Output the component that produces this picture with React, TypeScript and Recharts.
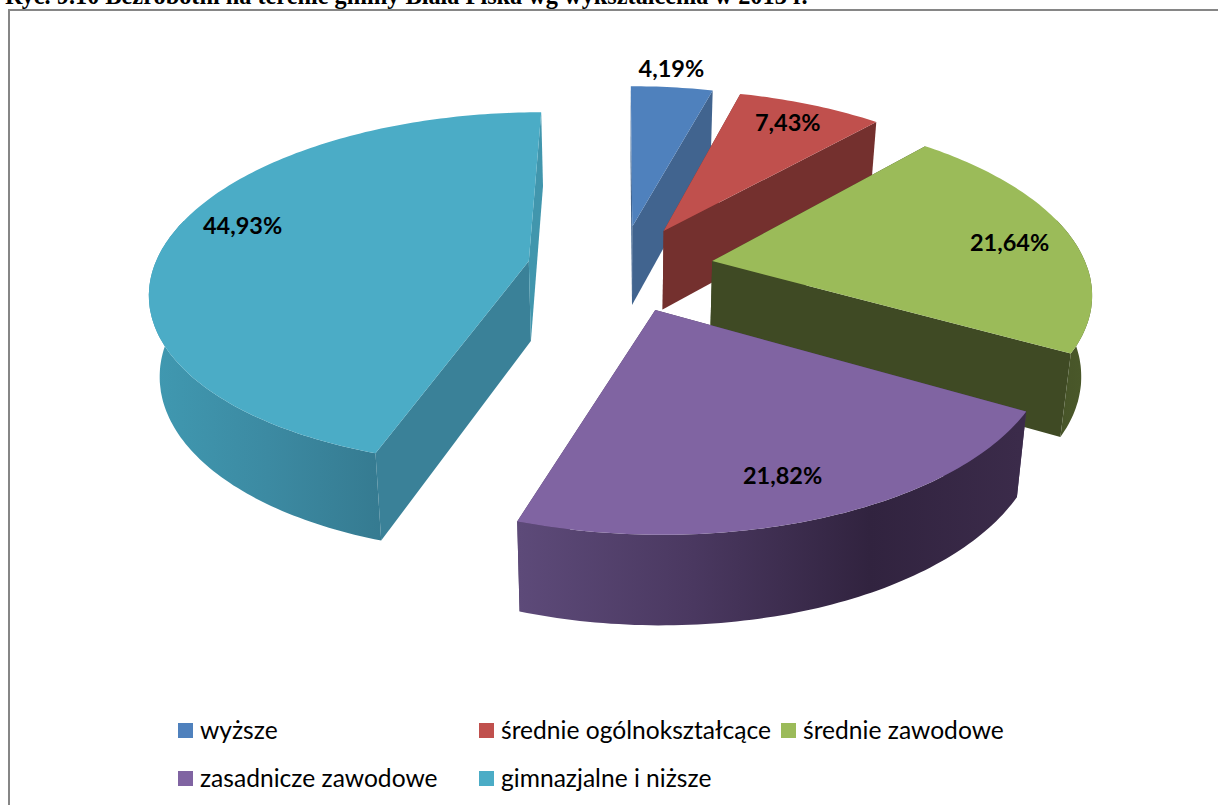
import * as React from 'react'
import { PieChart, Pie, Legend } from 'recharts'

const categories = ['wyższe', 'średnie ogólnokształcące', 'średnie zawodowe', 'zasadnicze zawodowe', 'gimnazjalne i niższe']
const shares = [4.19, 7.43, 21.64, 21.82, 44.93]
const colors = ['#4f81bd', '#c0504d', '#9bbb59', '#8064a2', '#4bacc6']

const tableData = categories.map((name, i) => ({ name, value: shares[i], fill: colors[i] }))

// side face colours per slice
const sideColors = ['#41648f', '#74302e', '#3f4a24', '#4a3860', '#3a8198']
const endSideColors = ['#41648f', '#74302e', '#3f4a24', '#4a3860', '#4196ad']
// outer wall gradient per slice, left to right
const wallStops: [number, string][][] = [
  [[0, '#41648f'], [1, '#41648f']],
  [[0, '#74302e'], [1, '#74302e']],
  [[0, '#3f4a24'], [1, '#4c5b2b']],
  [[0, '#5d4a79'], [0.35, '#4a3860'], [0.7, '#31233f'], [1, '#3b2b4a']],
  [[0, '#4099b1'], [0.5, '#3c8aa2'], [1, '#357a90']],
]
const wallRange = [[630, 720], [660, 880], [1000, 1100], [519, 1020], [150, 385]]
const labelReach = [1.16, 0.845, 0.825, 0.815, 0.83]
const labelTurn = [0.8, 0.45, -0.9, -1.0, -4.6]

// perspective of the pie plane
const CX = 620.5
const CY = 268
const RADIUS = 375
const EXPLODE = 93.5
const TILT = 0.465
const PERSP = 0.00042

const project = (X: number, Y: number, bottom = false) => {
  const s = 1 / (1 - PERSP * Y)
  const y = CY + TILT * Y * s
  if (!bottom) return [CX + X * s, y]
  return [CX + X * s * 0.977, y + 36 + 44 * s]
}

const toPath = (pts: number[][]) =>
  'M' + pts.map((p) => `${p[0].toFixed(1)},${p[1].toFixed(1)}`).join('L') + 'Z'

// recharts angle (deg, ccw from 3 o'clock) to plane direction
const dir = (angle: number) => {
  const a = (angle * Math.PI) / 180
  return [Math.cos(a), -Math.sin(a)]
}

const Slice3D = (props: any) => {
  const { startAngle, endAngle, outerRadius, fill, index } = props
  const mid = (startAngle + endAngle) / 2
  const [mx, my] = dir(mid)
  const ax = mx * EXPLODE
  const ay = my * EXPLODE
  const steps = Math.max(2, Math.ceil(Math.abs(endAngle - startAngle)))
  const arc: number[][] = []
  const frontArc: number[][] = []
  for (let k = 0; k <= steps; k++) {
    const [dx, dy] = dir(startAngle + ((endAngle - startAngle) * k) / steps)
    const p = [ax + dx * outerRadius, ay + dy * outerRadius]
    arc.push(p)
    // only the part of the rim that faces the viewer gets a wall
    if (dy > -0.25) frontArc.push(p)
  }
  const first = arc[0]
  const last = arc[arc.length - 1]
  const top = toPath([project(ax, ay), ...arc.map((p) => project(p[0], p[1]))])
  const wall =
    frontArc.length > 1
      ? toPath([
          ...frontArc.map((p) => project(p[0], p[1])),
          ...frontArc.map((p) => project(p[0], p[1], true)).reverse(),
        ])
      : null
  const side = (p: number[]) =>
    toPath([project(ax, ay), project(p[0], p[1]), project(p[0], p[1], true), project(ax, ay, true)])
  const gradId = `wall-${index}`
  return (
    <g>
      <defs>
        <linearGradient
          id={gradId}
          gradientUnits="userSpaceOnUse"
          x1={wallRange[index][0]}
          x2={wallRange[index][1]}
          y1={0}
          y2={0}
        >
          {wallStops[index].map(([o, c]) => (
            <stop key={o} offset={o} stopColor={c} />
          ))}
        </linearGradient>
      </defs>
      <path d={side(first)} fill={sideColors[index]} />
      <path d={side(last)} fill={endSideColors[index]} />
      {wall && <path d={wall} fill={`url(#${gradId})`} />}
      <path d={top} fill={fill} />
    </g>
  )
}

const renderLabel = (props: any) => {
  const { midAngle, outerRadius, value, index } = props
  const [mx, my] = dir(midAngle + labelTurn[index])
  const reach = labelReach[index] * outerRadius + EXPLODE
  const [x, y] = project(mx * reach, my * reach)
  return (
    <text
      x={x}
      y={y}
      textAnchor="middle"
      dominantBaseline="central"
      fontFamily="Lato"
      fontWeight={700}
      fontSize={23.5}
      fill="#000"
    >
      {value.toFixed(2).replace('.', ',') + '%'}
    </text>
  )
}

const legendPlaces = [
  [178, 723],
  [479, 723],
  [781, 723],
  [178, 771],
  [479, 771],
]

const renderLegend = () => (
  <div>
    {categories.map((name, i) => (
      <div key={name}>
        <div
          style={{
            position: 'absolute',
            left: legendPlaces[i][0],
            top: legendPlaces[i][1],
            width: 15,
            height: 15,
            background: colors[i],
          }}
        />
        <div
          style={{
            position: 'absolute',
            left: legendPlaces[i][0] + 22,
            top: legendPlaces[i][1] - 9,
            fontFamily: 'Lato',
            fontSize: 24.6,
            lineHeight: '32px',
            color: '#000',
            whiteSpace: 'nowrap',
          }}
        >
          {name}
        </div>
      </div>
    ))}
  </div>
)

export default function App() {
  return (
    <div style={{ position: 'absolute', left: 0, top: 0, width: 1218, height: 805, overflow: 'hidden', background: '#fff' }}>
      <div
        style={{
          position: 'absolute',
          left: 5,
          top: -17,
          fontFamily: 'Liberation Serif',
          fontWeight: 700,
          fontSize: 24.3,
          lineHeight: '26px',
          whiteSpace: 'nowrap',
          color: '#000',
        }}
      >
        Ryc. 9.10 Bezrobotni na terenie gminy Biała Piska wg wykształcenia w 2013 r.
      </div>
      <div style={{ position: 'absolute', left: 8, top: 9, width: 1210, height: 2, background: '#868686' }} />
      <div style={{ position: 'absolute', left: 8, top: 9, width: 2, height: 796, background: '#868686' }} />
      <div style={{ position: 'absolute', left: 0, top: 0 }}>
        <PieChart width={1218} height={805} margin={{ top: 0, right: 0, bottom: 0, left: 0 }}>
          <Pie
            data={tableData}
            dataKey="value"
            nameKey="name"
            cx={CX}
            cy={CY}
            innerRadius={0}
            outerRadius={RADIUS}
            startAngle={90}
            endAngle={-270}
            stroke="none"
            shape={Slice3D}
            label={renderLabel}
            labelLine={false}
            isAnimationActive={false}
          />
          <Legend content={renderLegend} wrapperStyle={{ position: 'absolute', left: 0, top: 0, width: 0, height: 0 }} />
        </PieChart>
      </div>
    </div>
  )
}
